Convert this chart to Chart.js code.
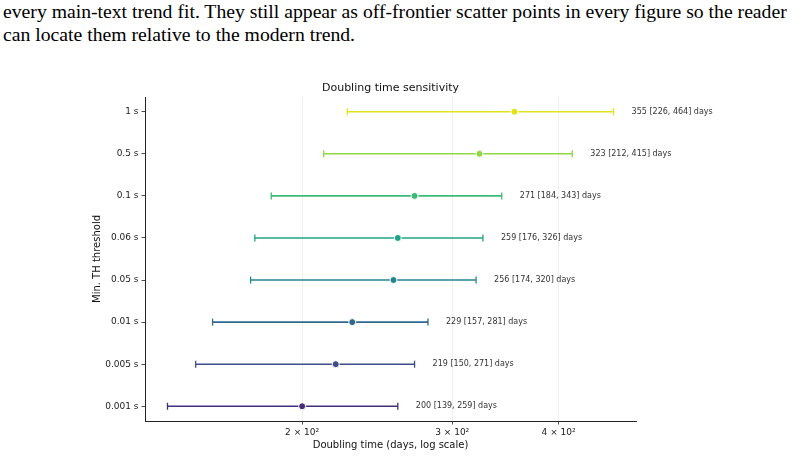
<!DOCTYPE html>
<html>
<head>
<meta charset="utf-8">
<script src="https://cdn.jsdelivr.net/npm/chart.js@4"></script>
<style>
  body { margin: 0; background: #fff; width: 805px; height: 458px; overflow: hidden; }
  #txt { position: absolute; left: 3px; top: 0px; font-family: 'Liberation Serif', serif; font-size: 19.7px; line-height: 23px; color: #000; white-space: nowrap; }
  #myChart { position: absolute; left: 0; top: 0; }
</style>
</head>
<body>
<div id="txt">every main-text trend fit. They still appear as off-frontier scatter points in every figure so the reader<br>can locate them relative to the modern trend.</div>
<canvas id="myChart" width="805" height="458"></canvas>
<script>
// categories top to bottom
const categories = ['1 s', '0.5 s', '0.1 s', '0.06 s', '0.05 s', '0.01 s', '0.005 s', '0.001 s'];
const medians = [355, 323, 271, 259, 256, 229, 219, 200];
const lows = [226, 212, 184, 176, 174, 157, 150, 139];
const highs = [464, 415, 343, 326, 320, 281, 271, 259];
const xTicks = [200, 300, 400];
const xTickLabels = ['2 × 10²', '3 × 10²', '4 × 10²'];

const colors = ['#dfe318', '#8fd744', '#3bbb75', '#20a386', '#24868e', '#31688e', '#3e4c8a', '#472c7a'];

Chart.defaults.font.family = 'DejaVu Sans';
Chart.defaults.color = '#222';

let datasets = [];
// median points on top
datasets.push({
    data: medians.map((m, i) => ({x: m, y: i})),
    pointBackgroundColor: colors,
    pointBorderColor: '#fff',
    pointBorderWidth: 1,
    pointRadius: 3.5,
    showLine: false,
    order: 0
});
categories.forEach((c, i) => {
    datasets.push({
        type: 'line',
        data: [{x: lows[i], y: i}, {x: highs[i], y: i}],
        borderColor: colors[i],
        borderWidth: 1.6,
        pointStyle: 'line',
        rotation: 90,
        pointRadius: 3.5,
        pointBorderColor: colors[i],
        pointBorderWidth: 1.3,
        order: 1
    });
});

const annotations = {
    id: 'annotations',
    afterDatasetsDraw(chart) {
        const ctx = chart.ctx;
        const xs = chart.scales.x, ys = chart.scales.y;
        ctx.save();
        ctx.font = '8px DejaVu Sans';
        ctx.fillStyle = '#333';
        ctx.textAlign = 'left';
        ctx.textBaseline = 'middle';
        categories.forEach((c, i) => {
            const txt = medians[i] + ' [' + lows[i] + ', ' + highs[i] + '] days';
            ctx.fillText(txt, xs.getPixelForValue(highs[i] * 1.05), ys.getPixelForValue(i));
        });
        ctx.restore();
    }
};

new Chart('myChart', {
    type: 'scatter',
    data: { datasets: datasets },
    options: {
        responsive: false,
        animation: false,
        devicePixelRatio: 1,
        layout: { padding: { left: 88, right: 169, top: 0, bottom: 0 } },
        plugins: {
            legend: { display: false },
            tooltip: { enabled: false },
            title: {
                display: true,
                fullSize: false,
                text: 'Doubling time sensitivity',
                font: { size: 11, weight: 'normal' },
                color: '#111',
                padding: { top: 81.4, bottom: 2.4 }
            }
        },
        scales: {
            x: {
                type: 'logarithmic',
                min: 130.8,
                max: 493,
                afterBuildTicks: s => { s.ticks = xTicks.map(v => ({value: v})); },
                afterFit: s => { s.height = 37; },
                ticks: {
                    callback: (v) => xTickLabels[xTicks.indexOf(v)],
                    font: { size: 9 },
                    color: '#222',
                    padding: 3,
                    maxRotation: 0,
                    autoSkip: false
                },
                grid: { color: '#ebebeb', lineWidth: 0.8, tickColor: '#222', tickLength: 3.5, tickWidth: 0.8 },
                border: { color: '#222', width: 1 },
                title: {
                    display: true,
                    text: 'Doubling time (days, log scale)',
                    font: { size: 10 },
                    color: '#111',
                    padding: { top: 0, bottom: 6.3 }
                }
            },
            y: {
                type: 'linear',
                reverse: true,
                min: -0.35,
                max: 7.35,
                afterBuildTicks: s => { s.ticks = categories.map((c, i) => ({value: i})); },
                afterFit: s => { s.width = 57; },
                ticks: {
                    callback: (v) => categories[v],
                    font: { size: 9 },
                    color: '#222',
                    padding: 3,
                    autoSkip: false
                },
                grid: { drawOnChartArea: false, tickColor: '#222', tickLength: 3.5, tickWidth: 0.8 },
                border: { color: '#222', width: 1 },
                title: {
                    display: true,
                    text: 'Min. TH threshold',
                    font: { size: 10 },
                    color: '#111',
                    padding: { top: 3, bottom: 0 }
                }
            }
        }
    },
    plugins: [annotations]
});
</script>
</body>
</html>
